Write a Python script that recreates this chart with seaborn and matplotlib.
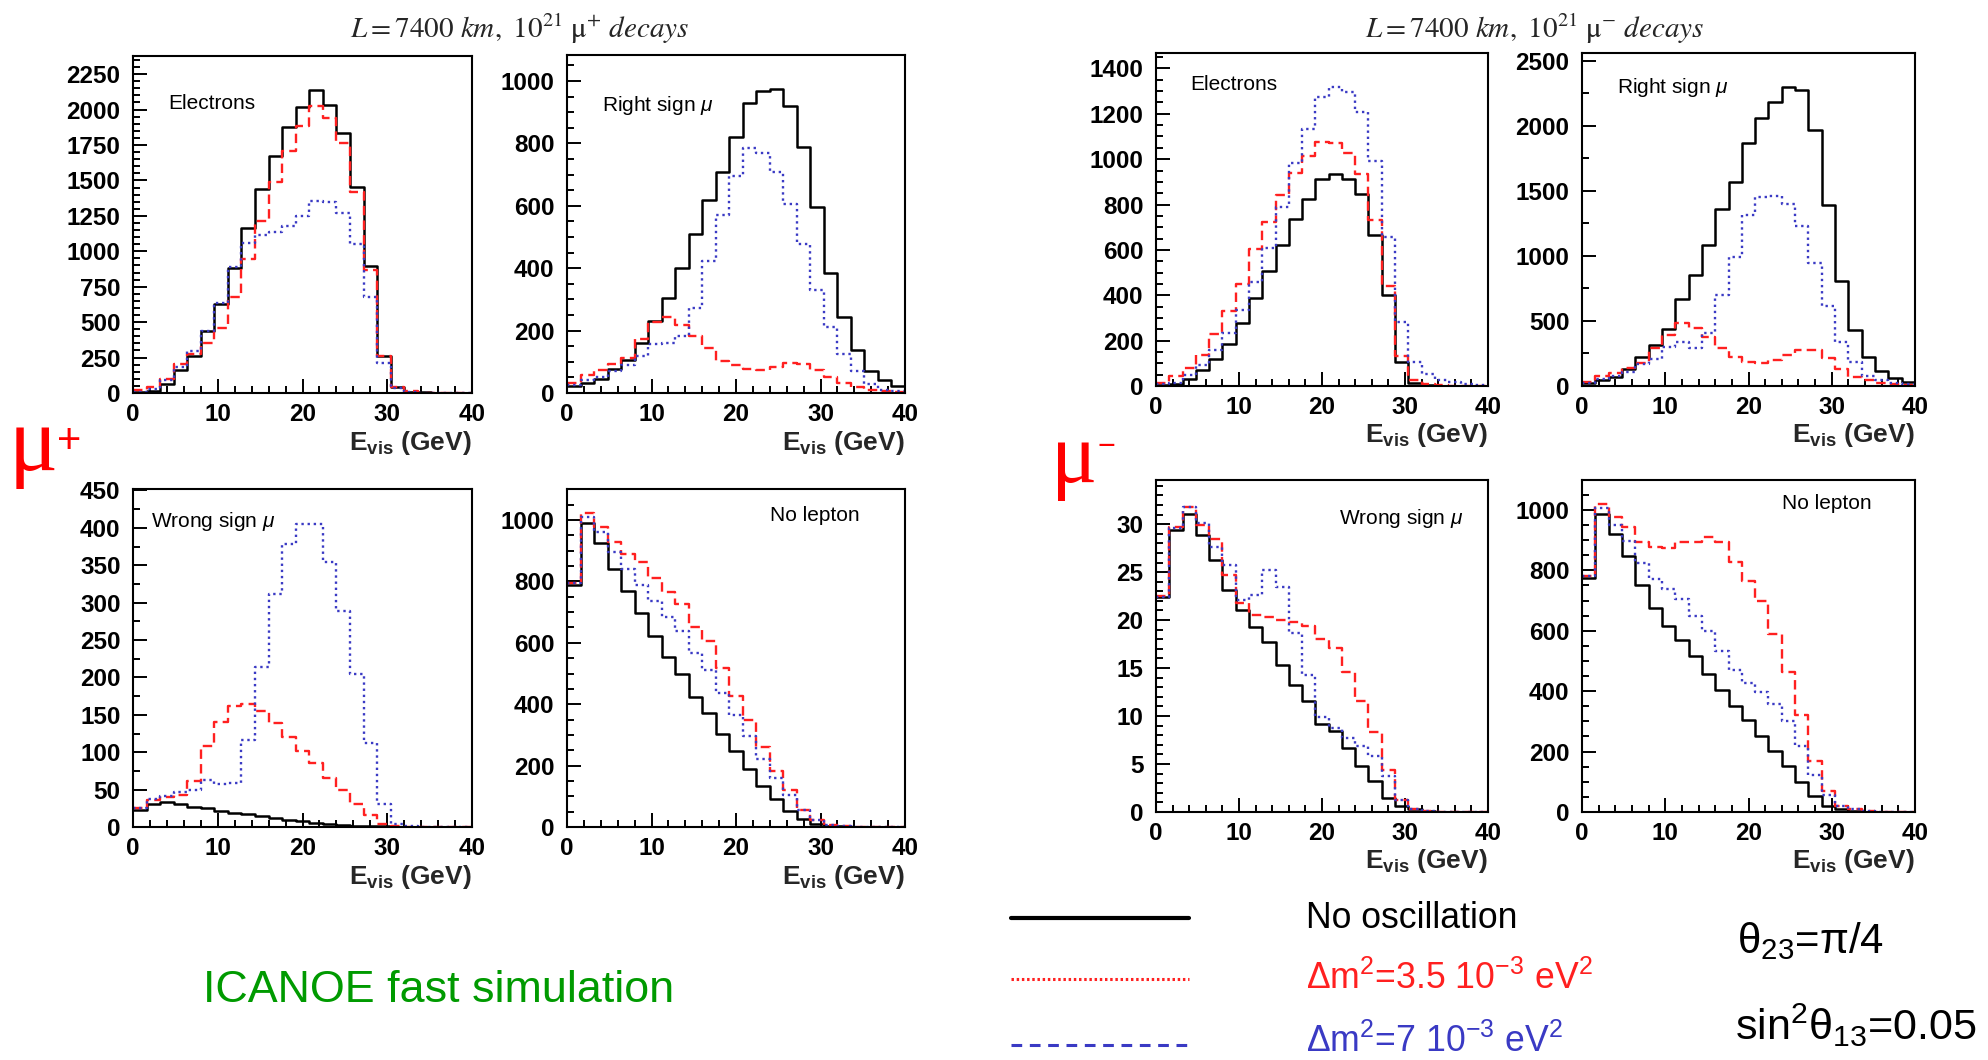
import numpy as np
import pandas as pd
import matplotlib
matplotlib.use("Agg")
import matplotlib.pyplot as plt
import seaborn as sns
from matplotlib.ticker import MultipleLocator
from matplotlib.lines import Line2D
from matplotlib import font_manager as fm

# ---------------- data (events per 1.6 GeV bin, 0-40 GeV) ----------------
bin_width = 1.6
e_range = (0, 40)

# mu+ decays
el_plus_none = [10, 15, 63, 160, 263, 439, 629, 885, 1164, 1436, 1673, 1875, 2018, 2140, 2035, 1838, 1453, 897, 263, 40, 10, 5, 2, 2, 1]
el_plus_dm35 = [19, 40, 100, 204, 277, 352, 458, 674, 944, 1213, 1486, 1709, 1882, 2023, 1943, 1767, 1415, 868, 263, 42, 14, 3, 2, 1, 1]
el_plus_dm70 = [10, 30, 94, 180, 293, 439, 638, 892, 1061, 1115, 1134, 1178, 1249, 1357, 1350, 1272, 1049, 674, 211, 35, 8, 3, 2, 1, 1]

rs_plus_none = [21, 33, 46, 78, 107, 160, 231, 303, 402, 511, 620, 707, 819, 928, 969, 973, 920, 789, 595, 386, 242, 139, 70, 43, 21]
rs_plus_dm35 = [32, 57, 75, 94, 112, 173, 228, 244, 217, 183, 144, 103, 89, 78, 75, 83, 96, 92, 73, 51, 32, 19, 11, 6, 4]
rs_plus_dm70 = [25, 41, 51, 71, 89, 118, 158, 160, 182, 273, 422, 570, 695, 784, 770, 709, 607, 477, 331, 210, 124, 70, 30, 11, 6]

ws_plus_none = [23, 31, 33, 31, 27, 25, 22, 19, 17, 15, 12, 10, 8, 6, 4.5, 3, 2, 1.5, 1, 0.5, 0.3, 0.2, 0.1, 0, 0]
ws_plus_dm35 = [25, 36, 40, 43, 62, 108, 141, 162, 165, 155, 139, 121, 102, 86, 66, 49, 31, 16, 4.5, 1.3, 0.5, 0.2, 0.1, 0, 0]
ws_plus_dm70 = [25, 37, 41, 47, 49, 63, 58, 59, 117, 214, 311, 379, 405, 405, 355, 289, 204, 113, 31, 3.5, 1, 0.3, 0.1, 0, 0]

nl_plus_none = [788, 989, 924, 840, 770, 696, 622, 554, 497, 424, 370, 304, 247, 188, 134, 92, 52, 27, 11, 4, 2, 1, 1, 1, 1]
nl_plus_dm35 = [794, 1022, 978, 929, 889, 864, 812, 766, 728, 652, 607, 519, 427, 348, 259, 183, 122, 54, 22, 5, 2, 1, 1, 1, 1]
nl_plus_dm70 = [794, 1011, 960, 897, 842, 788, 736, 685, 638, 567, 513, 438, 364, 297, 220, 158, 105, 54, 22, 5, 2, 1, 1, 1, 1]

# mu- decays
el_minus_none = [4, 9, 29, 71, 119, 185, 279, 387, 507, 622, 735, 824, 913, 935, 913, 847, 666, 401, 107, 12, 4, 1, 1, 1, 1]
el_minus_dm35 = [12, 44, 81, 137, 228, 332, 449, 604, 721, 843, 941, 1012, 1074, 1071, 1026, 935, 732, 443, 132, 26, 9, 4, 2, 2, 1]
el_minus_dm70 = [7, 15, 49, 93, 159, 235, 335, 457, 607, 791, 982, 1132, 1276, 1318, 1294, 1206, 993, 656, 284, 107, 53, 26, 16, 9, 4]

rs_minus_none = [20, 46, 72, 128, 220, 315, 438, 667, 851, 1085, 1359, 1564, 1867, 2059, 2182, 2297, 2272, 1969, 1392, 810, 431, 220, 115, 59, 33]
rs_minus_dm35 = [33, 77, 103, 136, 174, 290, 392, 487, 444, 379, 295, 226, 187, 180, 200, 238, 277, 277, 213, 128, 72, 46, 20, 13, 8]
rs_minus_dm70 = [26, 51, 77, 110, 167, 205, 303, 341, 290, 405, 700, 995, 1315, 1456, 1462, 1397, 1226, 944, 615, 341, 187, 77, 46, 20, 13]

ws_minus_none = [22.4, 29.4, 31.1, 28.9, 26.3, 23.1, 21.1, 19.3, 17.7, 15.3, 13.2, 11.6, 9.2, 8.4, 6.7, 4.8, 3.2, 1.5, 0.6, 0.3, 0.07, 0, 0, 0, 0]
ws_minus_dm35 = [22.5, 29.7, 31.8, 29.9, 28.4, 24.7, 21.8, 20.5, 20.3, 20.0, 19.8, 19.4, 18.0, 17.1, 14.6, 11.6, 8.3, 4.4, 1.3, 0.3, 0.07, 0, 0, 0, 0]
ws_minus_dm70 = [22.4, 29.6, 31.8, 30.1, 27.6, 25.7, 22.1, 22.6, 25.2, 23.4, 18.7, 14.3, 9.9, 8.8, 7.7, 6.9, 5.8, 3.7, 1.3, 0.3, 0.07, 0, 0, 0, 0]

nl_minus_none = [774, 987, 921, 846, 752, 675, 615, 568, 515, 458, 405, 352, 303, 253, 202, 152, 100, 53, 20, 9, 3, 1, 1, 1, 1]
nl_minus_dm35 = [780, 1020, 978, 945, 895, 876, 873, 895, 895, 910, 893, 826, 765, 697, 590, 463, 320, 168, 69, 20, 9, 3, 1, 1, 1]
nl_minus_dm70 = [780, 1005, 950, 898, 824, 771, 738, 706, 648, 598, 534, 471, 427, 398, 356, 301, 220, 121, 55, 20, 9, 3, 1, 1, 1]

panel_labels = ["Electrons", r"Right sign $\mu$", r"Wrong sign $\mu$", "No lepton"]
legend_labels = ["No oscillation", r"$\Delta$m$^{2}$=3.5 10$^{-3}$ eV$^{2}$", r"$\Delta$m$^{2}$=7 10$^{-3}$ eV$^{2}$"]

# ---------------- style ----------------
sns.set_theme(style="ticks")
plt.rcParams["font.family"] = ["Liberation Sans", "DejaVu Sans"]
plt.rcParams["font.weight"] = "normal"
plt.rcParams["mathtext.fontset"] = "custom"
plt.rcParams["mathtext.rm"] = "Liberation Sans"
plt.rcParams["mathtext.it"] = "Liberation Sans:italic"
plt.rcParams["mathtext.bf"] = "Liberation Sans:bold"
plt.rcParams["axes.edgecolor"] = "black"
plt.rcParams["axes.linewidth"] = 1.5

names = {f.name for f in fm.fontManager.ttflist}
NARROW = "Liberation Sans Narrow" in names
narrow_fam = ["Liberation Sans Narrow", "Liberation Sans", "DejaVu Sans"] if NARROW else ["Liberation Sans", "DejaVu Sans"]
nscale = 1.0 if NARROW else 0.84

W, H = 1988, 1060
fig = plt.figure(figsize=(W / 100, H / 100), dpi=100)
fig.patch.set_facecolor("white")

def box(l, t, r, b):
    return [l / W, 1 - b / H, (r - l) / W, (b - t) / H]

RED = "#ff2020"
BLUE = "#3a3ac4"
styles = [
    dict(color="black", lw=1.8, ls="-"),
    dict(color=RED, lw=1.7, ls=(0, (4, 2.2))),
    dict(color=BLUE, lw=1.7, ls=(0, (1, 1.6))),
]

n_bins = int(round((e_range[1] - e_range[0]) / bin_width))
centers = e_range[0] + bin_width * (np.arange(n_bins) + 0.5)

panels = [
    ((133, 56, 472, 393), (el_plus_none, el_plus_dm35, el_plus_dm70), 0, (0.103, 0.859), 2378, 250, 50),
    ((567, 55, 905, 393), (rs_plus_none, rs_plus_dm35, rs_plus_dm70), 1, (0.104, 0.852), 1083, 200, 50),
    ((133, 489, 472, 827), (ws_plus_none, ws_plus_dm35, ws_plus_dm70), 2, (0.052, 0.903), 452, 50, 25),
    ((567, 489, 905, 827), (nl_plus_none, nl_plus_dm35, nl_plus_dm70), 3, (0.602, 0.921), 1101, 200, 50),
    ((1156, 53, 1488, 386), (el_minus_none, el_minus_dm35, el_minus_dm70), 0, (0.104, 0.905), 1468, 200, 50),
    ((1582, 53, 1915, 386), (rs_minus_none, rs_minus_dm35, rs_minus_dm70), 1, (0.104, 0.895), 2559, 500, 250),
    ((1156, 480, 1488, 812), (ws_minus_none, ws_minus_dm35, ws_minus_dm70), 2, (0.551, 0.885), 34.6, 5, 1),
    ((1582, 480, 1915, 812), (nl_minus_none, nl_minus_dm35, nl_minus_dm70), 3, (0.60, 0.928), 1099, 200, 50),
]

for bx, series, li, (lx, ly), ytop, ymaj, ymin in panels:
    ax = fig.add_axes(box(*bx))
    ax.set_facecolor("white")
    for vals, st in zip(series, styles):
        df = pd.DataFrame({"E": centers, "n": np.asarray(vals, dtype=float)})
        sns.histplot(data=df, x="E", weights="n", binwidth=bin_width, binrange=e_range,
                     element="step", fill=False, ax=ax, color=st["color"],
                     linewidth=st["lw"], linestyle=st["ls"])
    ax.set_xlim(0, 40)
    ax.set_ylim(0, ytop)
    ax.xaxis.set_major_locator(MultipleLocator(10))
    ax.xaxis.set_minor_locator(MultipleLocator(2))
    ax.yaxis.set_major_locator(MultipleLocator(ymaj))
    ax.yaxis.set_minor_locator(MultipleLocator(ymin))
    ax.tick_params(which="both", direction="in", top=False, right=False,
                   width=1.4, color="black", labelsize=17.5, labelcolor="black")
    ax.tick_params(which="major", length=10)
    ax.tick_params(which="minor", length=5)
    ax.tick_params(axis="x", which="major", pad=7)
    ax.tick_params(axis="y", which="major", pad=9)
    plt.setp(ax.get_xticklabels() + ax.get_yticklabels(), fontweight="bold")
    for s in ax.spines.values():
        s.set_visible(True)
        s.set_linewidth(1.5)
        s.set_color("black")
    ax.set_ylabel("")
    ax.set_xlabel(r"$\mathbf{E}_{\mathbf{vis}}$ (GeV)", fontsize=19, fontweight="bold")
    ax.xaxis.set_label_coords(1.0, -0.148)
    ax.xaxis.label.set_ha("right")
    ax.xaxis.label.set_va("center")
    ax.text(lx, ly, panel_labels[li], transform=ax.transAxes, ha="left", va="center",
            fontsize=15, fontweight="normal", color="black")

# titles
fig.text(520 / W, 1 - 29 / H, r"$\mathit{L{=}7400\ km,\ 10^{21}}\ \mathrm{\mu}^{+}\ \mathit{decays}$",
         math_fontfamily="stix", fontsize=21, ha="center", va="center")
fig.text(1535 / W, 1 - 29 / H, r"$\mathit{L{=}7400\ km,\ 10^{21}}\ \mathrm{\mu}^{-}\ \mathit{decays}$",
         math_fontfamily="stix", fontsize=21, ha="center", va="center")

# big mu labels
fig.text(33 / W, 1 - 470 / H, "μ", family=["Liberation Serif", "DejaVu Serif"], fontsize=66,
         color="red", ha="center", va="baseline")
fig.text(69 / W, 1 - 442 / H, "+", fontsize=30, color="red", ha="center", va="center")
fig.text(1074 / W, 1 - 482 / H, "μ", family=["Liberation Serif", "DejaVu Serif"], fontsize=62,
         color="red", ha="center", va="baseline")
fig.text(1106 / W, 1 - 447 / H, "\u2212", fontsize=22, color="red", ha="center", va="center")

# simulation note
fig.text(203 / W, 1 - 990 / H, "ICANOE fast simulation", family=narrow_fam, fontsize=38.5 * nscale,
         color="#009a00", ha="left", va="center")

# legend
leg_y = [918, 979, 1045]
leg_styles = [dict(color="black", lw=3.0, ls="-"),
              dict(color=RED, lw=2.2, ls=(0, (0.8, 0.9))),
              dict(color=BLUE, lw=2.2, ls=(0, (3.5, 2.5)))]
leg_colors = ["black", RED, BLUE]
text_y = [918, 979, 1042]
for y, st in zip(leg_y, leg_styles):
    fig.add_artist(Line2D([1011 / W, 1189 / W], [1 - y / H, 1 - y / H], color=st["color"],
                          lw=st["lw"], ls=st["ls"], transform=fig.transFigure))
for ty, lab, c in zip(text_y, legend_labels, leg_colors):
    fig.text(1306 / W, 1 - ty / H, lab, family=narrow_fam, fontsize=30.5 * nscale, color=c,
             ha="left", va="center")

fig.text(1737 / W, 1 - 941 / H, r"$\mathrm{\theta}_{23}$=$\mathrm{\pi}$/4", family=narrow_fam,
         fontsize=36 * nscale, color="black", ha="left", va="center")
fig.text(1735 / W, 1 - 1025 / H, r"sin$^{2}\mathrm{\theta}_{13}$=0.05", family=narrow_fam,
         fontsize=37 * nscale, color="black", ha="left", va="center")

fig.savefig("out.png", dpi=100, facecolor="white")
